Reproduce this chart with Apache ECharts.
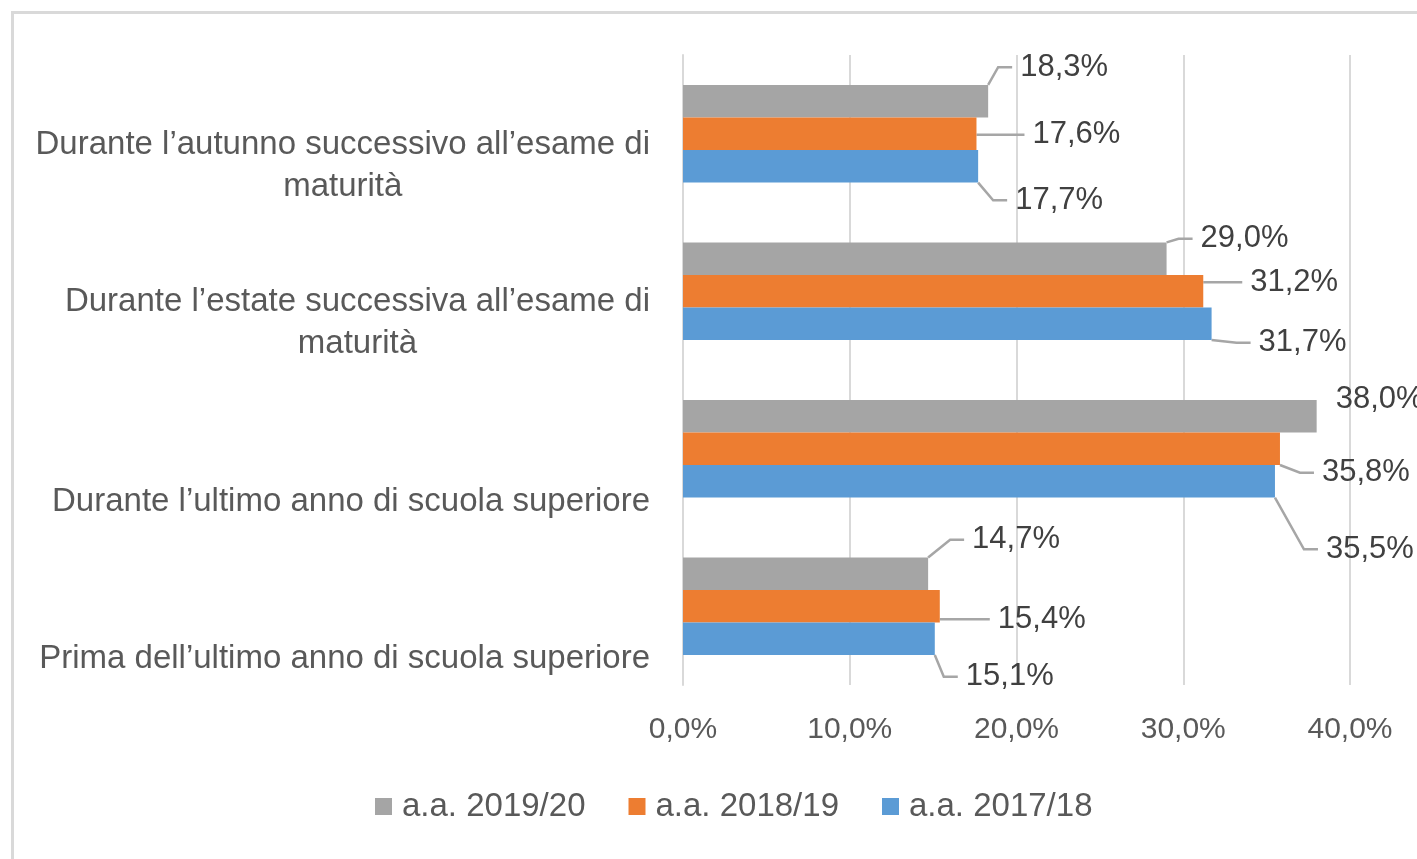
<!DOCTYPE html>
<html>
<head>
<meta charset="utf-8">
<script src="https://cdn.jsdelivr.net/npm/echarts@6/dist/echarts.min.js"></script>
<style>
html,body{margin:0;padding:0;background:#fff;}
#chart{width:1417px;height:859px;}
</style>
</head>
<body>
<div id="chart"></div>
<script>
// Categories (bottom to top as drawn)
const categories = [
  "Prima dell’ultimo anno di scuola superiore",
  "Durante l’ultimo anno di scuola superiore",
  "Durante l’estate successiva all’esame di maturità",
  "Durante l’autunno successivo all’esame di maturità"
];
const seriesNames = ["a.a. 2019/20", "a.a. 2018/19", "a.a. 2017/18"];
const values1920 = [14.7, 38.0, 29.0, 18.3];
const values1819 = [15.4, 35.8, 31.2, 17.6];
const values1718 = [15.1, 35.5, 31.7, 17.7];
const axisMin = 0, axisMax = 40, axisStep = 10;

// Styling (not data): label offsets from the default "right" position
const colors = ["#a5a5a5", "#ed7d31", "#5b9bd5"];
const labelShift = [
  [[39, -34], [14, -17], [29, -20], [27, -34]],
  [[53, 13], [37, 24], [42, -9], [51, 1]],
  [[26, 38], [46, 68], [42, 19], [32, 34]]
];
const LABEL_PAD = 8;
const FONT = "'Liberation Sans', Arial, sans-serif";
const fmtPct = v => Number(v).toFixed(1).replace('.', ',') + '%';

function wrap(text, maxChars) {
  const words = text.split(' ');
  const lines = [];
  let cur = '';
  words.forEach(w => {
    const t = cur ? cur + ' ' + w : w;
    if (t.length > maxChars && cur) { lines.push(cur); cur = w; } else { cur = t; }
  });
  if (cur) lines.push(cur);
  return lines;
}

const valueSets = [values1920, values1819, values1718];
const series = valueSets.map((vals, si) => ({
  name: seriesNames[si],
  type: 'bar',
  data: vals.map((v, i) => ({
    value: v,
    labelLine: { show: labelShift[si][i][0] >= 20 }
  })),
  barGap: '0%',
  barCategoryGap: '38%',
  itemStyle: { color: colors[si] },
  label: {
    show: true,
    position: 'right',
    distance: 5,
    padding: [0, 0, 0, LABEL_PAD],
    backgroundColor: 'rgba(255,255,255,0)',
    formatter: p => fmtPct(p.value),
    color: '#404040',
    fontSize: 31,
    fontFamily: FONT
  },
  labelLine: { show: true, length2: 14, lineStyle: { color: '#a6a6a6', width: 2.5 } },
  labelLayout: p => ({
    dx: labelShift[si][p.dataIndex][0] - LABEL_PAD,
    dy: labelShift[si][p.dataIndex][1],
    hideOverlap: false
  }),
  emphasis: { disabled: true },
  animation: false
}));

const chart = echarts.init(document.getElementById('chart'), null, { renderer: 'canvas' });
chart.setOption({
  backgroundColor: '#ffffff',
  animation: false,
  graphic: [{
    type: 'rect',
    z: -10,
    shape: { x: 12.5, y: 12.5, width: 1500, height: 1000 },
    style: { fill: 'none', stroke: '#d9d9d9', lineWidth: 3 }
  }],
  grid: { left: 683, right: 67, top: 55, bottom: 174, containLabel: false },
  legend: {
    data: seriesNames,
    left: 375,
    top: 790,
    padding: 0,
    icon: 'rect',
    itemWidth: 17,
    itemHeight: 17,
    itemGap: 43,
    textStyle: { color: '#595959', fontSize: 33, fontFamily: FONT, padding: [0, 0, 0, 5] }
  },
  xAxis: {
    type: 'value',
    min: axisMin,
    max: axisMax,
    interval: axisStep,
    axisLine: { show: false },
    axisTick: { show: false },
    splitLine: { show: true, lineStyle: { color: '#d9d9d9', width: 2 } },
    axisLabel: { formatter: v => fmtPct(v), color: '#595959', fontSize: 30, fontFamily: FONT, margin: 30 }
  },
  yAxis: {
    type: 'category',
    data: categories,
    axisLine: { show: true, lineStyle: { color: '#d9d9d9', width: 2 } },
    axisTick: { show: false },
    axisLabel: {
      margin: 33,
      align: 'right',
      color: '#595959',
      fontSize: 33,
      fontFamily: FONT,
      formatter: v => {
        const lines = wrap(v, 42);
        const sp = lines.length > 1 ? 'sp2' : 'sp1';
        return '{' + sp + '| }\n' + lines.map(l => '{c|' + l + '}').join('\n');
      },
      rich: {
        c: { align: 'center', lineHeight: 42, fontSize: 33, color: '#595959', fontFamily: FONT },
        sp1: { height: 106, lineHeight: 106, fontSize: 2 },
        sp2: { height: 64, lineHeight: 64, fontSize: 2 }
      }
    }
  },
  series: series
});
</script>
</body>
</html>
